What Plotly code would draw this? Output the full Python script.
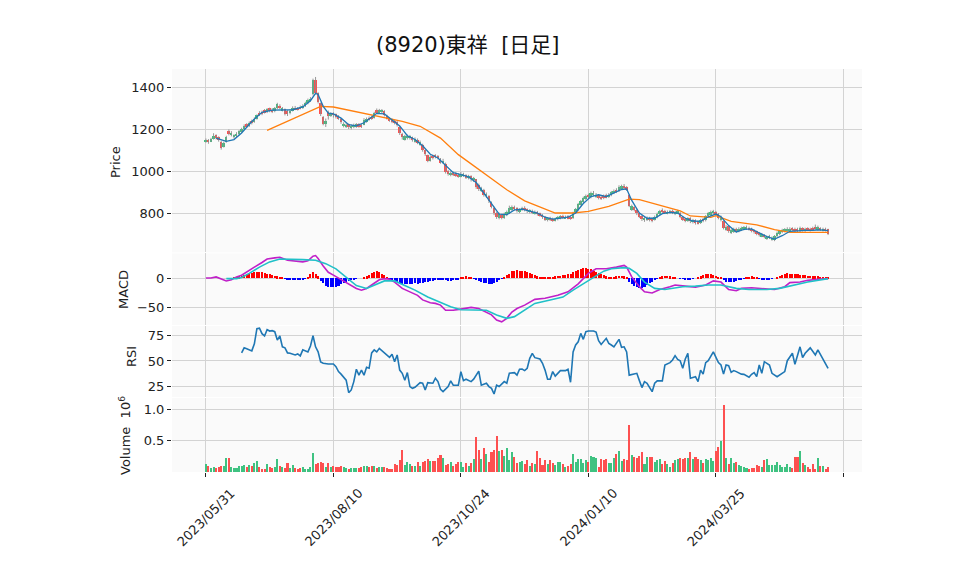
import plotly.graph_objects as go
from plotly.subplots import make_subplots

# %% data
title = "(8920)東祥\u00a0\u00a0[日足]"
date_ticks = [0, 50, 100, 150, 200, 250]
date_labels = ["2023/05/31", "2023/08/10", "2023/10/24", "2024/01/10", "2024/03/25", ""]

opens = [
    1140, 1148, 1140, 1152, 1170, 1160, 1140, 1115, 1140, 1190,
    1172, 1160, 1168, 1175, 1188, 1198, 1222, 1215, 1238, 1235,
    1250, 1278, 1282, 1290, 1280, 1298, 1292, 1285, 1298, 1312,
    1290, 1295, 1285, 1275, 1288, 1302, 1300, 1305, 1300, 1310,
    1322, 1335, 1365, 1432, 1370, 1322, 1258, 1222, 1282, 1262,
    1275, 1270, 1262, 1248, 1215, 1210, 1222, 1205, 1208, 1212,
    1222, 1218, 1220, 1235, 1255, 1258, 1255, 1290, 1278, 1280,
    1285, 1262, 1248, 1245, 1238, 1232, 1210, 1178, 1150, 1155,
    1158, 1160, 1140, 1150, 1125, 1125, 1098, 1075, 1050, 1072,
    1075, 1070, 1058, 1040, 1035, 1000, 980, 992, 988, 982,
    975, 978, 980, 965, 975, 955, 960, 935, 905, 912,
    880, 880, 850, 825, 800, 775, 792, 778, 790, 800,
    815, 830, 822, 805, 815, 825, 818, 805, 812, 798,
    805, 798, 790, 782, 765, 778, 772, 765, 770, 775,
    785, 776, 784, 780, 775, 800, 815, 840, 852, 868,
    885, 875, 885, 880, 885, 878, 880, 885, 878, 885,
    895, 912, 905, 915, 930, 922, 885, 815, 828, 815,
    798, 785, 765, 768, 778, 772, 768, 780, 795, 815,
    810, 798, 802, 810, 795, 800, 800, 782, 772, 762,
    775, 755, 765, 760, 752, 770, 765, 785, 790, 798,
    805, 795, 765, 760, 720, 738, 705, 710, 725, 712,
    718, 722, 725, 730, 725, 718, 712, 705, 690, 695,
    676, 680, 674, 672, 690, 698, 708, 712, 715, 718,
    728, 726, 725, 712, 728, 715, 728, 725, 730, 732,
    720, 728, 715, 726, 722,
]
highs = [
    1155, 1152, 1158, 1180, 1175, 1165, 1145, 1140, 1168, 1198,
    1190, 1175, 1185, 1195, 1206, 1222, 1228, 1236, 1245, 1256,
    1270, 1285, 1288, 1295, 1300, 1302, 1300, 1305, 1325, 1318,
    1305, 1298, 1290, 1295, 1308, 1310, 1305, 1312, 1318, 1330,
    1345, 1352, 1440, 1448, 1375, 1326, 1262, 1250, 1288, 1280,
    1280, 1274, 1266, 1252, 1232, 1228, 1226, 1222, 1226, 1228,
    1228, 1224, 1252, 1255, 1260, 1264, 1282, 1298, 1296, 1295,
    1290, 1268, 1255, 1250, 1244, 1238, 1215, 1182, 1172, 1174,
    1172, 1164, 1160, 1155, 1145, 1130, 1102, 1078, 1075, 1078,
    1080, 1076, 1062, 1058, 1040, 1005, 998, 998, 995, 990,
    995, 992, 985, 982, 980, 972, 962, 940, 925, 915,
    898, 885, 855, 830, 806, 802, 796, 802, 812, 835,
    836, 835, 828, 822, 830, 832, 822, 818, 816, 812,
    810, 802, 795, 786, 780, 782, 778, 778, 786, 790,
    792, 788, 790, 786, 806, 824, 848, 862, 878, 888,
    892, 902, 905, 895, 890, 884, 888, 892, 895, 905,
    912, 918, 932, 935, 938, 928, 890, 840, 832, 820,
    802, 790, 780, 784, 782, 778, 788, 802, 815, 822,
    815, 812, 815, 816, 810, 815, 805, 786, 778, 780,
    780, 772, 770, 765, 772, 776, 790, 805, 812, 815,
    810, 800, 788, 765, 742, 742, 725, 730, 730, 732,
    735, 738, 740, 735, 730, 722, 716, 710, 705, 700,
    692, 696, 688, 695, 712, 718, 725, 728, 732, 732,
    732, 730, 730, 735, 732, 730, 732, 730, 735, 745,
    740, 732, 730, 730, 725,
]
lows = [
    1135, 1130, 1138, 1150, 1150, 1140, 1102, 1112, 1135, 1170,
    1165, 1155, 1162, 1170, 1182, 1195, 1205, 1210, 1222, 1230,
    1245, 1262, 1266, 1274, 1276, 1280, 1276, 1280, 1295, 1295,
    1284, 1265, 1262, 1270, 1284, 1290, 1288, 1294, 1296, 1305,
    1318, 1330, 1360, 1365, 1322, 1262, 1218, 1210, 1245, 1258,
    1255, 1250, 1244, 1225, 1208, 1205, 1200, 1198, 1204, 1206,
    1206, 1205, 1218, 1230, 1240, 1244, 1250, 1272, 1272, 1276,
    1260, 1245, 1235, 1228, 1222, 1212, 1172, 1150, 1145, 1150,
    1150, 1140, 1135, 1128, 1120, 1092, 1072, 1042, 1045, 1055,
    1060, 1055, 1035, 1035, 988, 978, 975, 976, 972, 968,
    970, 972, 962, 960, 950, 948, 915, 905, 900, 878,
    872, 848, 822, 790, 772, 770, 770, 772, 785, 795,
    810, 812, 802, 800, 810, 808, 800, 798, 795, 792,
    788, 782, 772, 762, 760, 762, 758, 760, 765, 770,
    772, 772, 770, 768, 772, 796, 812, 836, 848, 862,
    868, 870, 880, 872, 865, 862, 866, 870, 872, 880,
    890, 895, 900, 910, 912, 905, 828, 810, 808, 790,
    776, 762, 758, 762, 760, 756, 764, 775, 790, 800,
    795, 794, 798, 795, 790, 795, 775, 762, 756, 758,
    752, 750, 745, 745, 748, 756, 760, 780, 786, 794,
    785, 770, 760, 722, 715, 706, 700, 705, 706, 708,
    714, 718, 720, 716, 708, 702, 694, 688, 685, 680,
    672, 676, 668, 666, 686, 694, 704, 708, 710, 714,
    714, 706, 710, 708, 712, 710, 715, 712, 715, 720,
    716, 715, 712, 712, 695,
]
closes = [
    1150, 1138, 1152, 1168, 1158, 1150, 1110, 1135, 1160, 1175,
    1180, 1170, 1178, 1190, 1200, 1215, 1212, 1230, 1228, 1250,
    1265, 1268, 1272, 1278, 1295, 1285, 1282, 1298, 1318, 1300,
    1298, 1272, 1270, 1288, 1300, 1295, 1292, 1298, 1312, 1322,
    1338, 1345, 1432, 1372, 1330, 1270, 1225, 1240, 1262, 1272,
    1265, 1258, 1250, 1232, 1226, 1220, 1208, 1215, 1220, 1222,
    1212, 1212, 1245, 1248, 1245, 1250, 1275, 1278, 1290, 1290,
    1265, 1250, 1240, 1235, 1228, 1220, 1180, 1160, 1165, 1168,
    1166, 1148, 1152, 1135, 1138, 1100, 1080, 1050, 1068, 1062,
    1068, 1060, 1040, 1050, 995, 985, 992, 982, 980, 975,
    982, 985, 968, 975, 960, 965, 925, 915, 918, 885,
    892, 855, 830, 800, 780, 795, 776, 795, 805, 822,
    828, 818, 808, 815, 822, 815, 808, 812, 800, 805,
    795, 788, 780, 768, 775, 768, 765, 772, 780, 784,
    778, 782, 776, 774, 800, 818, 842, 855, 872, 880,
    875, 895, 895, 888, 870, 868, 872, 876, 888, 898,
    905, 900, 925, 928, 920, 912, 835, 832, 815, 798,
    782, 770, 775, 778, 765, 762, 780, 795, 808, 805,
    800, 806, 810, 800, 805, 808, 780, 768, 762, 775,
    760, 765, 752, 750, 765, 762, 785, 798, 805, 810,
    790, 775, 782, 730, 735, 712, 718, 722, 712, 725,
    728, 732, 735, 722, 715, 708, 700, 694, 698, 684,
    686, 690, 682, 690, 705, 712, 718, 722, 725, 726,
    720, 712, 715, 728, 718, 725, 720, 718, 720, 725,
    732, 720, 725, 718, 702,
]

# volume, in millions of shares
volumes = [
    0.128, 0.096, 0.064, 0.080, 0.064, 0.085, 0.096, 0.090, 0.218, 0.218,
    0.074, 0.069, 0.058, 0.090, 0.096, 0.106, 0.085, 0.117, 0.096, 0.138,
    0.176, 0.080, 0.053, 0.053, 0.128, 0.074, 0.064, 0.074, 0.200, 0.096,
    0.074, 0.058, 0.144, 0.064, 0.106, 0.064, 0.048, 0.069, 0.080, 0.043,
    0.053, 0.080, 0.300, 0.122, 0.144, 0.160, 0.149, 0.080, 0.144, 0.074,
    0.090, 0.074, 0.085, 0.090, 0.074, 0.064, 0.053, 0.064, 0.058, 0.064,
    0.058, 0.074, 0.100, 0.090, 0.080, 0.090, 0.100, 0.069, 0.074, 0.074,
    0.085, 0.069, 0.053, 0.053, 0.128, 0.112, 0.190, 0.350, 0.106, 0.160,
    0.128, 0.096, 0.096, 0.160, 0.100, 0.154, 0.176, 0.200, 0.180, 0.170,
    0.176, 0.230, 0.266, 0.223, 0.117, 0.133, 0.160, 0.090, 0.128, 0.160,
    0.160, 0.085, 0.138, 0.096, 0.138, 0.207, 0.558, 0.350, 0.207, 0.378,
    0.287, 0.165, 0.324, 0.350, 0.574, 0.330, 0.350, 0.255, 0.378, 0.190,
    0.320, 0.245, 0.150, 0.165, 0.176, 0.128, 0.190, 0.096, 0.150, 0.128,
    0.335, 0.218, 0.112, 0.190, 0.128, 0.190, 0.138, 0.112, 0.160, 0.160,
    0.128, 0.074, 0.090, 0.128, 0.287, 0.160, 0.207, 0.207, 0.150, 0.190,
    0.165, 0.255, 0.245, 0.218, 0.085, 0.207, 0.190, 0.207, 0.138, 0.138,
    0.218, 0.287, 0.335, 0.180, 0.200, 0.190, 0.750, 0.270, 0.234, 0.218,
    0.255, 0.320, 0.128, 0.245, 0.245, 0.234, 0.165, 0.190, 0.200, 0.128,
    0.176, 0.128, 0.074, 0.138, 0.190, 0.200, 0.218, 0.207, 0.223, 0.218,
    0.324, 0.213, 0.245, 0.213, 0.190, 0.150, 0.200, 0.190, 0.218, 0.176,
    0.340, 0.404, 0.500, 1.070, 0.218, 0.128, 0.218, 0.150, 0.165, 0.112,
    0.096, 0.085, 0.069, 0.053, 0.058, 0.058, 0.106, 0.096, 0.085, 0.190,
    0.207, 0.106, 0.112, 0.106, 0.165, 0.112, 0.074, 0.080, 0.128, 0.085,
    0.064, 0.234, 0.234, 0.335, 0.138, 0.112, 0.085, 0.048, 0.128, 0.048,
    0.223, 0.096, 0.096, 0.048, 0.080,
]

# short moving average (blue) and long moving average (orange), read as points
ma_short_idx = [4, 8, 11, 14, 18, 22, 26, 30, 34, 38, 41, 43, 44, 46, 48, 50, 53, 56, 59, 62,
                65, 67, 70, 73, 76, 79, 82, 85, 88, 91, 94, 97, 100, 103, 106, 109, 112, 115, 118, 121,
                124, 127, 130, 133, 136, 139, 142, 145, 148, 151, 154, 157, 160, 163, 165, 167, 170, 173, 176, 179,
                182, 185, 188, 191, 194, 197, 200, 202, 205, 208, 211, 214, 217, 220, 223, 226, 229, 232, 235, 238,
                241, 244]
ma_short_val = [1157, 1141, 1150, 1181, 1236, 1280, 1290, 1292, 1292, 1305, 1335, 1370, 1365, 1308, 1276, 1272, 1252, 1221, 1215, 1230,
                1258, 1275, 1272, 1245, 1215, 1168, 1150, 1120, 1080, 1062, 1025, 992, 983, 972, 945, 895, 840, 795, 792, 815,
                818, 810, 800, 780, 771, 776, 780, 800, 845, 878, 887, 878, 895, 912, 915, 860, 800, 775, 775, 797,
                803, 800, 775, 762, 760, 782, 795, 782, 740, 710, 722, 724, 705, 688, 676, 692, 713, 716, 717, 718,
                720, 716]
ma_long_idx = [24, 45, 50, 64, 77, 84, 92, 99, 108, 118, 125, 137, 144, 150, 158, 166, 170, 179, 186, 190,
               198, 200, 206, 216, 223, 229, 244]
ma_long_val = [1194, 1308, 1305, 1268, 1237, 1213, 1157, 1078, 998, 911, 858, 800, 800, 808, 832, 866, 864, 834, 810, 786,
               779, 787, 760, 744, 721, 708, 708]

# MACD line, signal line and histogram
macd_idx = [0, 2, 4, 6, 8, 10, 12, 14, 16, 19, 22, 24, 27, 29, 32, 35, 38, 40, 42, 43,
            44, 46, 48, 50, 53, 57, 59, 61, 63, 66, 68, 70, 72, 74, 77, 80, 83, 85, 88, 90,
            92, 94, 97, 100, 102, 104, 107, 109, 112, 114, 116, 118, 120, 122, 125, 129, 133, 138, 142, 146,
            150, 153, 157, 161, 164, 165, 167, 170, 172, 175, 178, 182, 184, 188, 192, 196, 199, 202, 205, 208,
            210, 214, 218, 223, 227, 229, 233, 236, 240, 244]
macd_val = [1, 1, 3, 0, -4, -2, 3, 6, 12, 20, 28, 34, 36, 37, 32, 30, 29, 31, 39, 40,
            35, 22, 11, 6, -2, -12, -17, -20, -17, -8, -2, 0, -1, -6, -17, -23, -29, -37, -42, -43,
            -46, -55, -55, -53, -52, -50, -52, -56, -63, -72, -75, -69, -58, -52, -46, -36, -34, -29, -23, -9,
            9, 17, 17, 20, 23, 20, 3, -14, -23, -25, -19, -14, -11, -13, -15, -11, -4, -6, -19, -21,
            -17, -16, -17, -19, -14, -7, -6, -3, -1, 0]
signal_idx = [8, 12, 14, 17, 21, 25, 29, 33, 38, 43, 47, 51, 55, 59, 63, 66, 70, 74, 78, 82,
              87, 91, 96, 100, 105, 110, 114, 118, 121, 125, 129, 135, 140, 144, 148, 152, 156, 159, 164, 166,
              169, 172, 176, 180, 187, 192, 197, 202, 208, 213, 220, 225, 230, 236, 244]
signal_val = [0, 0, 2, 9, 20, 29, 34, 34, 33, 32, 26, 17, 3, -12, -17, -12, -4, -4, -12, -20,
              -32, -40, -49, -54, -54, -55, -63, -69, -66, -55, -43, -37, -32, -20, -9, 3, 13, 17, 19, 18,
              9, -6, -17, -19, -14, -13, -11, -11, -17, -19, -19, -17, -12, -6, 0]
macd_hist = [
    0, 0, 0, 0, 0, 0, 0, 0, 0, 0, 0,
    1, 2, 3, 4, 6, 7, 8, 9, 10, 10,
    11, 10, 9, 8, 7, 5, 4, 3, 2, 1,
    -1, -2, -2, -3, -2, -2, -2, -3, -1, 2,
    7, 10, 8, 3, -5, -9, -13, -15, -16, -16,
    -15, -13, -11, -9, -7, -5, -3, -2, -1, 0,
    0, 1, 3, 6, 9, 11, 12, 10, 8, 5,
    2, -1, -3, -5, -7, -9, -10, -11, -10, -11,
    -10, -9, -10, -9, -8, -7, -6, -5, -5, -4,
    -3, -2, -3, -4, -5, -5, -4, -3, -2, 1,
    2, 3, 2, 1, -1, -3, -5, -6, -8, -9,
    -10, -10, -9, -7, -4, -1, 2, 5, 8, 12,
    13, 14, 13, 13, 12, 11, 9, 7, 5, 3,
    2, 1, 1, 1, 2, 2, 3, 4, 4, 5,
    6, 7, 8, 10, 12, 14, 16, 17, 17, 16,
    15, 13, 11, 9, 7, 5, 3, 2, 2, 2,
    3, 4, 4, 3, 1, -6, -10, -14, -16, -18,
    -17, -15, -12, -9, -6, -3, -1, 1, 3, 4,
    4, 3, 2, 1, 0, -1, -1, -2, -2, -2,
    -1, 0, 1, 3, 5, 7, 8, 7, 6, 4,
    2, 1, -3, -6, -7, -7, -6, -5, -4, -3,
    -1, 1, 2, 3, 2, 1, -1, -2, -2, -2,
    -2, -1, 0, 2, 4, 6, 8, 9, 8, 8,
    7, 7, 6, 5, 5, 4, 4, 3, 3, 3,
    2, 2, 1, 1,
]

# RSI
rsi_idx = [14, 15, 16, 17, 18, 19, 20, 21, 22, 23, 24, 25, 26, 27, 28, 29, 30, 31, 32, 33,
           35, 36, 37, 38, 40, 41, 42, 43, 44, 45, 46, 48, 50, 51, 52, 53, 55, 56, 57, 58,
           59, 60, 61, 62, 63, 64, 65, 66, 67, 68, 70, 71, 72, 73, 74, 75, 76, 77, 78, 79,
           80, 81, 82, 84, 85, 86, 87, 89, 90, 91, 92, 93, 95, 96, 97, 99, 100, 101, 102, 104,
           105, 107, 108, 110, 111, 112, 113, 114, 115, 117, 118, 119, 121, 122, 123, 124, 125, 126, 127, 128,
           129, 131, 132, 133, 134, 135, 136, 137, 138, 139, 141, 142, 143, 144, 145, 146, 147, 148, 149, 150,
           152, 153, 154, 155, 157, 158, 159, 160, 162, 163, 164, 165, 166, 167, 169, 170, 171, 172, 173, 175,
           176, 177, 179, 180, 182, 183, 184, 185, 186, 187, 188, 189, 190, 192, 193, 194, 195, 196, 197, 199,
           200, 201, 202, 203, 204, 205, 206, 207, 208, 210, 211, 213, 214, 215, 216, 217, 218, 219, 221, 222,
           224, 225, 227, 228, 230, 231, 233, 234, 235, 237, 239, 240, 242, 244]
rsi_val = [58, 63, 62, 61, 60, 67, 82, 82.5, 77, 74.7, 81, 79.6, 80, 79, 70.7, 74.7, 64, 63, 58, 57.6,
           56, 57, 55, 61, 59, 64.8, 75, 64, 59, 49, 47.7, 47, 47, 44.4, 39.5, 37, 31, 18.7, 21.4, 29.6,
           41.8, 36, 41, 36, 43.7, 42.8, 58, 61, 59, 62.5, 58, 56, 53.6, 56.6, 49.3, 56, 41, 37.8, 31, 38.5,
           24.7, 23, 24, 28.6, 28, 21.4, 28.6, 28, 33, 29.6, 22, 19.7, 24.7, 30.3, 26, 26, 39.5, 30.6, 32, 29.6,
           32, 40, 26, 28, 24.7, 23, 17.4, 26, 24.7, 29.6, 28, 38, 38.5, 36, 41.8, 42, 40.5, 42.8, 52.6, 57.6,
           53.3, 52, 47.7, 41, 32, 32, 39.5, 35, 38, 40.5, 40.5, 41.8, 29, 59, 65.8, 69, 77.3, 71.4, 79, 79.6,
           79.6, 78.6, 70, 66.4, 72.4, 67.4, 65.8, 64, 71.4, 63.5, 64, 59, 36, 36.8, 37.8, 30.6, 23.7, 29.6, 28, 19.7,
           28, 30.3, 30.3, 46, 48.4, 51, 55.3, 51.6, 50.3, 42.8, 52, 57.6, 33, 34.5, 29.6, 41, 37, 48.4, 50.3, 59,
           53.6, 48.4, 46, 37, 46, 45.4, 38.8, 40.5, 39.5, 37, 36.8, 33.9, 36.8, 38.5, 34.5, 46, 37.8, 49.3, 46, 37.8,
           34.5, 36, 39.5, 50.3, 57.6, 46.7, 64, 53.3, 57.6, 63, 56, 61, 52.6, 42.8]

# %% styling
UP = "#3fc281"
DOWN = "#fd5050"
GRID = "#d3d3d3"
FONT = "DejaVu Sans, Noto Sans CJK JP"

idx = list(range(len(closes)))
candle_cols = [UP if c >= o else DOWN for o, c in zip(opens, closes)]
hist_cols = ["#ff0000" if h >= 0 else "#0000ff" for h in macd_hist]

fig = make_subplots(rows=4, cols=1, shared_xaxes=True, vertical_spacing=0.0)

# wicks
wick_x, wick_y = [], []
for i in idx:
    wick_x += [i, i, None]
    wick_y += [lows[i], highs[i], None]
fig.add_trace(go.Scatter(x=wick_x, y=wick_y, mode="lines",
                         line=dict(color="#8c8c8c", width=0.9)), row=1, col=1)

# candle bodies as floating bars
body_lo = [min(o, c) for o, c in zip(opens, closes)]
body_len = [max(abs(c - o), 3) for o, c in zip(opens, closes)]
fig.add_trace(go.Bar(x=idx, y=body_len, base=body_lo, width=0.75,
                     marker=dict(color=candle_cols, line=dict(width=0))), row=1, col=1)

fig.add_trace(go.Scatter(x=ma_long_idx, y=ma_long_val, mode="lines",
                         line=dict(color="#ff7f0e", width=1.3)), row=1, col=1)
fig.add_trace(go.Scatter(x=ma_short_idx, y=ma_short_val, mode="lines",
                         line=dict(color="#1f77b4", width=1.3)), row=1, col=1)

# MACD
fig.add_trace(go.Bar(x=idx, y=macd_hist, marker=dict(color=hist_cols, line=dict(width=0)),
                     width=0.8), row=2, col=1)
fig.add_trace(go.Scatter(x=macd_idx, y=macd_val, mode="lines",
                         line=dict(color="#c020c8", width=1.6)), row=2, col=1)
fig.add_trace(go.Scatter(x=signal_idx, y=signal_val, mode="lines",
                         line=dict(color="#20c0c8", width=1.6)), row=2, col=1)

# RSI
fig.add_trace(go.Scatter(x=rsi_idx, y=rsi_val, mode="lines",
                         line=dict(color="#1f77b4", width=1.6)), row=3, col=1)

# volume
fig.add_trace(go.Bar(x=idx, y=volumes, marker=dict(color=candle_cols, line=dict(width=0)),
                     width=0.8), row=4, col=1)

tick_font = dict(family=FONT, size=13, color="#222")
fig.update_xaxes(range=[-13.3, 257.3], tickvals=date_ticks, showticklabels=False,
                 showgrid=True, gridcolor=GRID, gridwidth=1, zeroline=False,
                 rangeslider_visible=False, showline=False)
fig.update_xaxes(ticks="outside", ticklen=4, tickcolor="#222", row=4, col=1)
fig.update_yaxes(showgrid=True, gridcolor=GRID, gridwidth=1, zeroline=False,
                 ticks="outside", ticklen=4, tickcolor="#222", tickfont=tick_font, showline=False)

# the page body adds an 8px offset, so the figure is 8px smaller than the window
fig.update_layout(
    width=950, height=567,
    margin=dict(l=164, r=96, t=61, b=103),
    paper_bgcolor="white", plot_bgcolor="#fafafa",
    showlegend=False, bargap=0, barmode="overlay",
    yaxis=dict(domain=[0.5447, 1.0], range=[612, 1486], tickvals=[800, 1000, 1200, 1400]),
    yaxis2=dict(domain=[0.3648, 0.5422], range=[-80.5, 43.6], tickvals=[-50, 0]),
    yaxis3=dict(domain=[0.1861, 0.3623], range=[14.4, 84.6], tickvals=[25, 50, 75]),
    yaxis4=dict(domain=[0.0, 0.1836], range=[0, 1.18], tickvals=[0.5, 1.0], ticktext=["0.5", "1.0"]),
)

# panel labels (positions given in window pixels, plot area at 172..862 x 69..472)
ann = []
for text, xp, yp in [("Price", 115, 162), ("MACD", 123, 290), ("RSI", 131, 357),
                     ("Volume  10<sup>6</sup>", 125, 436)]:
    ann.append(dict(text=text, xref="paper", yref="paper",
                    x=(xp - 172) / 690, y=(472 - yp) / 403, textangle=-90,
                    showarrow=False, xanchor="center", yanchor="middle",
                    font=dict(family=FONT, size=13, color="#222")))
# date labels
for t, lab in zip(date_ticks, date_labels):
    if lab:
        ann.append(dict(text=lab, xref="x4", yref="paper", x=t, y=(472 - 517) / 403,
                        textangle=-45, showarrow=False, xanchor="center", yanchor="middle",
                        font=dict(family=FONT, size=13, color="#222")))
# title
ann.append(dict(text=title, xref="paper", yref="paper", x=(468 - 172) / 690, y=(472 - 45) / 403,
                showarrow=False, xanchor="center", yanchor="middle",
                font=dict(family=FONT, size=21, color="#111")))
fig.update_layout(annotations=ann)

fig.write_html("out.html")
